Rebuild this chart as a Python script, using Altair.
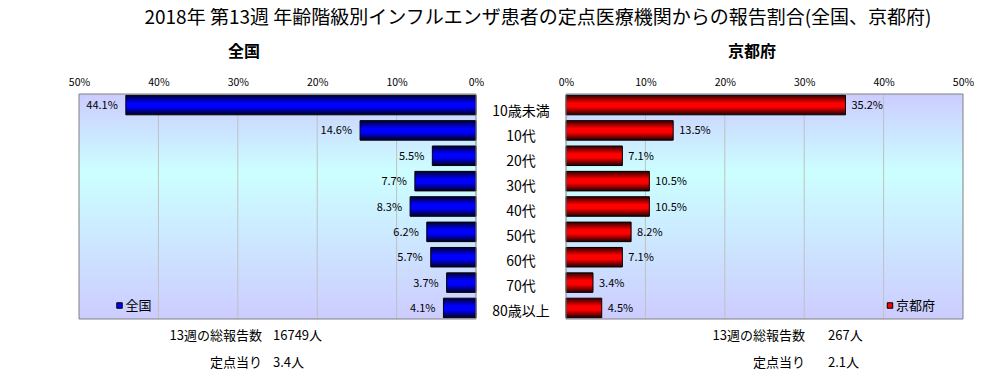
import altair as alt
import pandas as pd

# ---------------- data ----------------
ages = ["10歳未満", "10代", "20代", "30代", "40代", "50代", "60代", "70代", "80歳以上"]
zenkoku_pct = [44.1, 14.6, 5.5, 7.7, 8.3, 6.2, 5.7, 3.7, 4.1]
kyoto_pct = [35.2, 13.5, 7.1, 10.5, 10.5, 8.2, 7.1, 3.4, 4.5]
axis_ticks = [0, 10, 20, 30, 40, 50]
grid_ticks = [10, 20, 30, 40]
title_text = "2018年 第13週 年齢階級別インフルエンザ患者の定点医療機関からの報告割合(全国、京都府)"
panel_titles = ["全国", "京都府"]
total_label = "13週の総報告数"
per_label = "定点当り"
zenkoku_stats = ["16749人", "3.4人"]
kyoto_stats = ["267人", "2.1人"]

FONT = "Noto Sans CJK JP"
W, H, MID = 397, 225, 90

bg_grad = alt.LinearGradient(
    gradient="linear", x1=0, x2=0, y1=0, y2=1,
    stops=[alt.GradientStop(offset=0, color="#ccccff"),
           alt.GradientStop(offset=0.35, color="#ccffff"),
           alt.GradientStop(offset=1, color="#ccccff")])


def bar_grad(dark_top, main, dark_bot):
    return alt.LinearGradient(
        gradient="linear", x1=0, x2=0, y1=0, y2=1,
        stops=[alt.GradientStop(offset=0, color=dark_top),
               alt.GradientStop(offset=0.4, color=main),
               alt.GradientStop(offset=0.6, color=main),
               alt.GradientStop(offset=1, color=dark_bot)])


one = pd.DataFrame({"k": [0]})


def text_at(txt, x, y, size=14, align="center", weight="normal"):
    return alt.Chart(pd.DataFrame({"t": [txt]})).mark_text(
        font=FONT, fontSize=size, align=align, baseline="middle",
        fontWeight=weight, color="black").encode(
        x=alt.value(x), y=alt.value(y), text="t:N")


def y_enc():
    return alt.Y("age:N", sort=ages,
                 scale=alt.Scale(paddingInner=0.23, paddingOuter=0.05),
                 axis=None)


def panel(values, reverse, grad, sq_color, name, legend_x, title_x,
          stat_label_x, stat_value_x, stats, extra=None):
    df = pd.DataFrame({"age": ages, "v": values})
    xenc = alt.X("v:Q", title=None,
                 scale=alt.Scale(domain=[0, 50], reverse=reverse, nice=False),
                 axis=alt.Axis(orient="top", values=axis_ticks,
                               labelExpr="datum.value + '%'", grid=False,
                               ticks=False, tickSize=0, domain=False,
                               labelPadding=7, labelFont=FONT, labelFontSize=10.5,
                               labelColor="black", labelFlush=False,
                               labelOverlap=False))
    bg = alt.Chart(one).mark_rect(fill=bg_grad).encode(
        x=alt.value(0), x2=alt.value(W), y=alt.value(0), y2=alt.value(H))
    grid = alt.Chart(pd.DataFrame({"v": grid_ticks})).mark_rule(
        color="#c0c0c0", strokeWidth=1).encode(x=xenc)
    bars = alt.Chart(df).mark_bar(fill=grad, stroke="black", strokeWidth=1).encode(
        x=xenc, y=y_enc())
    labels = alt.Chart(df).transform_calculate(
        lab="format(datum.v, '.1f') + '%'").mark_text(
        font=FONT, fontSize=11, align="right" if reverse else "left",
        dx=-8 if reverse else 6, dy=1, baseline="middle", color="black").encode(
        x=xenc, y=y_enc(), text="lab:N")
    border = alt.Chart(one).mark_rect(fill="transparent", stroke="#808080",
                                      strokeWidth=1).encode(
        x=alt.value(0), x2=alt.value(W), y=alt.value(0), y2=alt.value(H))
    sq = alt.Chart(one).mark_point(shape="square", size=30, filled=True,
                                   fill=sq_color, stroke="black", strokeWidth=1,
                                   opacity=1).encode(
        x=alt.value(legend_x), y=alt.value(211.5))
    leg = text_at(name, legend_x + 6, 211.5, size=13, align="left")
    ptitle = text_at(name, title_x, -42, size=16, weight="bold")
    s1 = text_at(total_label, stat_label_x, 242, size=13, align="right")
    s2 = text_at(stats[0], stat_value_x, 242, size=13, align="left")
    s3 = text_at(per_label, stat_label_x, 269, size=13, align="right")
    s4 = text_at(stats[1], stat_value_x, 269, size=13, align="left")
    layers = [bg, grid, bars, labels, border, sq, leg, ptitle, s1, s2, s3, s4]
    if extra:
        layers += extra
    return alt.layer(*layers).properties(width=W, height=H)


anchor = alt.Chart(one).mark_rect(fill="white").encode(
    x=alt.value(-71), x2=alt.value(-70), y=alt.value(-86), y2=alt.value(-85))
main_title = text_at(title_text, 459, -76.5, size=19)

left = panel(zenkoku_pct, True, bar_grad("#000030", "#0000ff", "#000020"),
             "#0000ff", panel_titles[0], 40.5, 165, 183, 194, zenkoku_stats,
             extra=[anchor, main_title])

mid = alt.Chart(pd.DataFrame({"age": ages})).mark_text(
    font=FONT, fontSize=14, align="center", baseline="middle", dy=5.5,
    color="black").encode(x=alt.value(MID / 2), y=y_enc(), text="age:N"
                          ).properties(width=MID, height=H)

right = panel(kyoto_pct, False, bar_grad("#300000", "#ff0000", "#200000"),
              "#ff0000", panel_titles[1], 324, 186, 239, 262, kyoto_stats)

chart = alt.hconcat(left, mid, right, spacing=0, bounds="flush").configure_view(
    strokeWidth=0).properties(padding=0, background="white")

chart.save("out.html", embed_options={"renderer": "svg", "actions": False})
